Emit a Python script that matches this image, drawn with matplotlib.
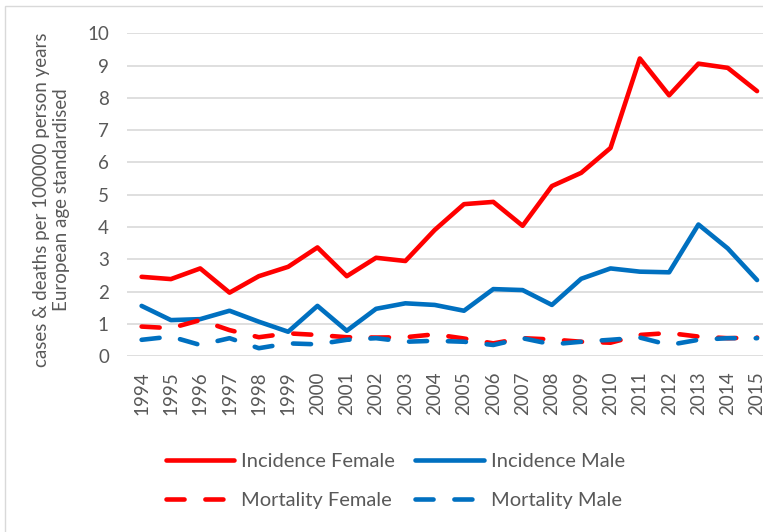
import matplotlib
matplotlib.use("Agg")
import matplotlib.pyplot as plt
from matplotlib.patches import Rectangle

# Datos
years = list(range(1994, 2016))
incidence_female = [2.46, 2.39, 2.72, 1.97, 2.48, 2.77, 3.37, 2.48, 3.05, 2.95, 3.91,
                    4.71, 4.78, 4.04, 5.27, 5.68, 6.45, 9.22, 8.08, 9.06, 8.93, 8.21]
incidence_male = [1.56, 1.12, 1.15, 1.41, 1.07, 0.76, 1.56, 0.79, 1.47, 1.64, 1.59,
                  1.41, 2.08, 2.05, 1.59, 2.40, 2.72, 2.62, 2.60, 4.08, 3.34, 2.36]
mortality_female = [0.92, 0.87, 1.12, 0.81, 0.59, 0.71, 0.66, 0.59, 0.58, 0.59, 0.68,
                    0.55, 0.40, 0.56, 0.52, 0.45, 0.42, 0.66, 0.72, 0.61, 0.56, 0.58]
mortality_male = [0.51, 0.61, 0.35, 0.56, 0.25, 0.40, 0.37, 0.51, 0.56, 0.45, 0.48,
                  0.45, 0.35, 0.56, 0.37, 0.45, 0.51, 0.58, 0.35, 0.51, 0.56, 0.56]

RED = "#FF0000"
BLUE = "#0070C0"
GREY = "#595959"

plt.rcParams["font.family"] = ["Lato", "DejaVu Sans"]
plt.rcParams["lines.scale_dashes"] = False

fig = plt.figure(figsize=(7.63, 5.32), dpi=100)
ax = fig.add_axes([0.1664, 0.3303, 0.845, 0.6071])

lw = 3.3
dash = (13, 15)
l_if, = ax.plot(years, incidence_female, color=RED, lw=lw, solid_capstyle="round",
                solid_joinstyle="round", label="Incidence Female")
l_im, = ax.plot(years, incidence_male, color=BLUE, lw=lw, solid_capstyle="round",
                solid_joinstyle="round", label="Incidence Male")
l_mf, = ax.plot(years, mortality_female, color=RED, lw=lw, dashes=dash,
                dash_capstyle="round", label="Mortality Female")
l_mm, = ax.plot(years, mortality_male, color=BLUE, lw=lw, dashes=dash,
                dash_capstyle="round", label="Mortality Male")

ax.set_xlim(1993.5, 2015.5)
ax.set_ylim(0, 10)
ax.set_yticks(range(0, 11))
ax.set_xticks(years)
ax.set_xticklabels([str(y) for y in years], rotation=90)
ax.tick_params(axis="both", length=0, labelsize=13.5, labelcolor=GREY)
ax.tick_params(axis="y", pad=13)
ax.tick_params(axis="x", pad=11)
ax.grid(axis="y", color="#D9D9D9", lw=1.2)
ax.set_axisbelow(True)
for s in ax.spines.values():
    s.set_visible(False)

fig.text(0.068, 0.624, "cases & deaths per 100000 person years\nEuropean age standardised",
         rotation=90, ha="center", va="center", fontsize=13.5, color=GREY,
         linespacing=1.2)

# Leyenda en dos columnas (orden por filas)
fig.legend([l_if, l_mf, l_im, l_mm],
           ["Incidence Female", "Mortality Female", "Incidence Male", "Mortality Male"],
           ncol=2, loc="center", bbox_to_anchor=(0.518, 0.096),
           frameon=False, fontsize=14.5, handlelength=3.4, handletextpad=0.35,
           columnspacing=1.0, labelspacing=1.05, labelcolor=GREY)

# Borde del gráfico
fig.patches.append(Rectangle((0.007, -0.1), 1.2, 1.088, transform=fig.transFigure,
                             fill=False, edgecolor="#D9D9D9", lw=1.0))

fig.savefig("out.png", dpi=100)
